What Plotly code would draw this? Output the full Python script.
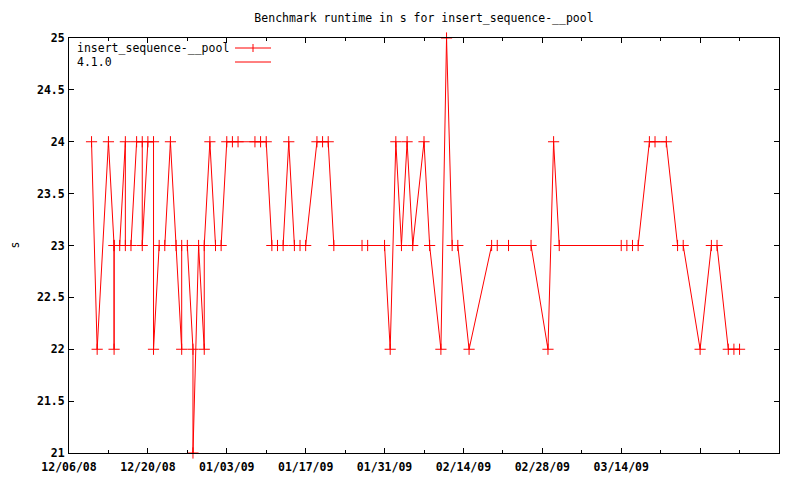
import plotly.graph_objects as go

# ---- data ----
dates = [
    "2008-12-10", "2008-12-11", "2008-12-13", "2008-12-14", "2008-12-14", "2008-12-14",
    "2008-12-15", "2008-12-16", "2008-12-16", "2008-12-17", "2008-12-18", "2008-12-19",
    "2008-12-19", "2008-12-20", "2008-12-21", "2008-12-21", "2008-12-22", "2008-12-23",
    "2008-12-24", "2008-12-25", "2008-12-26", "2008-12-26", "2008-12-27", "2008-12-28",
    "2008-12-28", "2008-12-29", "2008-12-30", "2008-12-30", "2008-12-31", "2009-01-01",
    "2009-01-02", "2009-01-03", "2009-01-04", "2009-01-05", "2009-01-08", "2009-01-09",
    "2009-01-10", "2009-01-11", "2009-01-12", "2009-01-13", "2009-01-14", "2009-01-15",
    "2009-01-16", "2009-01-17", "2009-01-19", "2009-01-20", "2009-01-21", "2009-01-22",
    "2009-01-27", "2009-01-28", "2009-01-31", "2009-02-01", "2009-02-02", "2009-02-03",
    "2009-02-04", "2009-02-05", "2009-02-07", "2009-02-08", "2009-02-10", "2009-02-11",
    "2009-02-12", "2009-02-13", "2009-02-15", "2009-02-19", "2009-02-20", "2009-02-22",
    "2009-02-26", "2009-03-01", "2009-03-02", "2009-03-03", "2009-03-14", "2009-03-15",
    "2009-03-16", "2009-03-17", "2009-03-19", "2009-03-20", "2009-03-22", "2009-03-24",
    "2009-03-25", "2009-03-28", "2009-03-30", "2009-03-31", "2009-04-02", "2009-04-03",
    "2009-04-04",
]
runtime_s = [
    24, 22, 24, 23, 22, 23, 23, 24, 23, 23,
    24, 24, 23, 24, 24, 22, 23, 23, 24, 23,
    22, 23, 23, 22, 21, 23, 22, 23, 24, 23,
    23, 24, 24, 24, 24, 24, 24, 23, 23, 23,
    24, 23, 23, 23, 24, 24, 24, 23, 23, 23,
    23, 22, 24, 23, 24, 23, 24, 23, 22, 25,
    23, 23, 22, 23, 23, 23, 23, 22, 24, 23,
    23, 23, 23, 23, 24, 24, 24, 23, 23, 22,
    23, 23, 22, 22, 22,
]
x_tick_vals = ["2008-12-06", "2008-12-20", "2009-01-03", "2009-01-17", "2009-01-31",
               "2009-02-14", "2009-02-28", "2009-03-14", "2009-03-28", "2009-04-11"]
x_tick_text = ["12/06/08", "12/20/08", "01/03/09", "01/17/09", "01/31/09",
               "02/14/09", "02/28/09", "03/14/09", "", ""]
y_tick_vals = [21, 21.5, 22, 22.5, 23, 23.5, 24, 24.5, 25]
y_tick_text = ["21", "21.5", "22", "22.5", "23", "23.5", "24", "24.5", "25"]
series_name = "insert_sequence-__pool"
version_name = "4.1.0"
title_text = "Benchmark runtime in s for insert_sequence-__pool"

RED = "#ff0000"
FONT = "DejaVu Sans Mono"

fig = go.Figure()
fig.add_trace(go.Scatter(
    x=dates, y=runtime_s, mode="lines+markers", name=series_name,
    line=dict(color=RED, width=1),
    marker=dict(symbol="cross-thin", size=8, color=RED, line=dict(color=RED, width=1)),
    cliponaxis=False, showlegend=False,
))

# plot area in pixels: x 69..779, y 38..453
L, R, T, B = 69, 779, 38, 453
W, H = R - L, B - T

def px(x):
    return (x - L) / W

def py(y):
    return 1 - (y - T) / H

annotations = [
    dict(text=series_name, x=px(75), y=py(48), xref="paper", yref="paper",
         xanchor="left", yanchor="middle", showarrow=False,
         font=dict(family=FONT, size=11.5, color="black")),
    dict(text=version_name, x=px(75), y=py(62), xref="paper", yref="paper",
         xanchor="left", yanchor="middle", showarrow=False,
         font=dict(family=FONT, size=11.5, color="black")),
    dict(text="s", x=px(14), y=0.5, xref="paper", yref="paper", textangle=-90,
         xanchor="center", yanchor="middle", showarrow=False,
         font=dict(family=FONT, size=11.5, color="black")),
]
shapes = [
    dict(type="line", xref="paper", yref="paper", x0=px(235), x1=px(271), y0=py(48), y1=py(48),
         line=dict(color=RED, width=1)),
    dict(type="line", xref="paper", yref="paper", x0=px(253), x1=px(253), y0=py(44), y1=py(52),
         line=dict(color=RED, width=1)),
    dict(type="line", xref="paper", yref="paper", x0=px(235), x1=px(271), y0=py(62), y1=py(62),
         line=dict(color=RED, width=1)),
]

fig.update_layout(
    width=800, height=480,
    margin=dict(l=L, r=800 - R, t=T, b=480 - B, pad=0),
    paper_bgcolor="white", plot_bgcolor="white",
    title=dict(text=title_text, x=0.5, xref="paper", xanchor="center",
               y=1 - 18 / 480, yref="container", yanchor="middle",
               font=dict(family=FONT, size=11.5, color="black")),
    annotations=annotations, shapes=shapes,
    showlegend=False,
)
fig.update_xaxes(
    type="date", range=["2008-12-06", "2009-04-11"], automargin=False,
    tickmode="array", tickvals=x_tick_vals, ticktext=x_tick_text,
    ticks="inside", ticklen=5, tickcolor="black", tickwidth=1,
    minor=dict(ticks="inside", ticklen=3, tickcolor="black",
               dtick=7 * 86400000, tick0="2008-12-06", showgrid=False),
    showline=True, linecolor="black", linewidth=1, mirror="allticks",
    showgrid=False, zeroline=False, ticklabelstandoff=3,
    tickfont=dict(family=FONT, size=11.5, color="black", weight="bold"),
)
fig.update_yaxes(
    range=[21, 25], tickmode="array", tickvals=y_tick_vals, ticktext=y_tick_text,
    automargin=False,
    ticks="inside", ticklen=5, tickcolor="black", tickwidth=1,
    showline=True, linecolor="black", linewidth=1, mirror="allticks",
    showgrid=False, zeroline=False, ticklabelstandoff=1,
    tickfont=dict(family=FONT, size=11.5, color="black", weight="bold"),
)

fig.write_html("out.html", post_script="document.body.style.margin='0';",
               config={"displayModeBar": False})
